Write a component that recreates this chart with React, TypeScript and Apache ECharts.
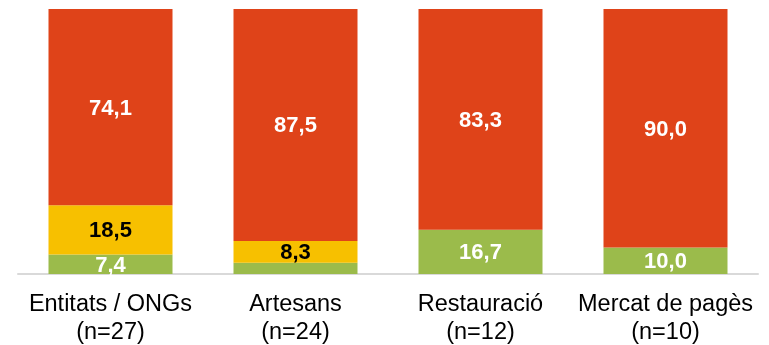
import React, { useEffect, useRef } from "react";
import * as echarts from "echarts";

const categories = ["Entitats / ONGs\n(n=27)", "Artesans\n(n=24)", "Restauració\n(n=12)", "Mercat de pagès\n(n=10)"];
const greenValues = [7.4, 4.2, 16.7, 10.0];
const yellowValues = [18.5, 8.3, 0, 0];
const redValues = [74.1, 87.5, 83.3, 90.0];

const fmt = (v: number) => v.toFixed(1).replace(".", ",");

export default function App() {
  const ref = useRef<HTMLDivElement>(null);
  useEffect(() => {
    if (!ref.current) return;
    const chart = echarts.init(ref.current, null, { renderer: "svg" });
    const font = "'Liberation Sans', Arial, sans-serif";
    const mkLabel = (color: string, hideIdx: number[] = []) => ({
      show: true,
      position: "inside",
      color,
      fontSize: 22,
      fontWeight: "bold",
      fontFamily: font,
      formatter: (p: any) => (p.value === 0 || hideIdx.includes(p.dataIndex) ? "" : fmt(p.value)),
    });
    chart.setOption({
      animation: false,
      grid: { left: 18, right: 11, top: 9, bottom: 69, containLabel: false },
      xAxis: {
        type: "category",
        data: categories,
        axisLine: { show: true, lineStyle: { color: "#d9d9d9", width: 2 } },
        axisTick: { show: false },
        axisLabel: {
          color: "#000",
          fontSize: 23.5,
          fontFamily: font,
          lineHeight: 28,
          margin: 15,
          interval: 0,
        },
      },
      yAxis: {
        type: "value",
        min: 0,
        max: 100,
        show: false,
        splitLine: { show: false },
      },
      series: [
        {
          name: "green",
          type: "bar",
          stack: "s",
          barWidth: 124,
          data: greenValues,
          itemStyle: { color: "#9bbb4b" },
          label: mkLabel("#ffffff", [1]),
        },
        {
          name: "yellow",
          type: "bar",
          stack: "s",
          barWidth: 124,
          data: yellowValues,
          itemStyle: { color: "#f7c000" },
          label: mkLabel("#000000"),
        },
        {
          name: "red",
          type: "bar",
          stack: "s",
          barWidth: 124,
          data: redValues,
          itemStyle: { color: "#df4319" },
          label: mkLabel("#ffffff"),
        },
      ],
    });
    return () => chart.dispose();
  }, []);
  return (
    <div
      ref={ref}
      style={{ position: "fixed", left: 0, top: 0, width: 769, height: 345 }}
    />
  );
}
